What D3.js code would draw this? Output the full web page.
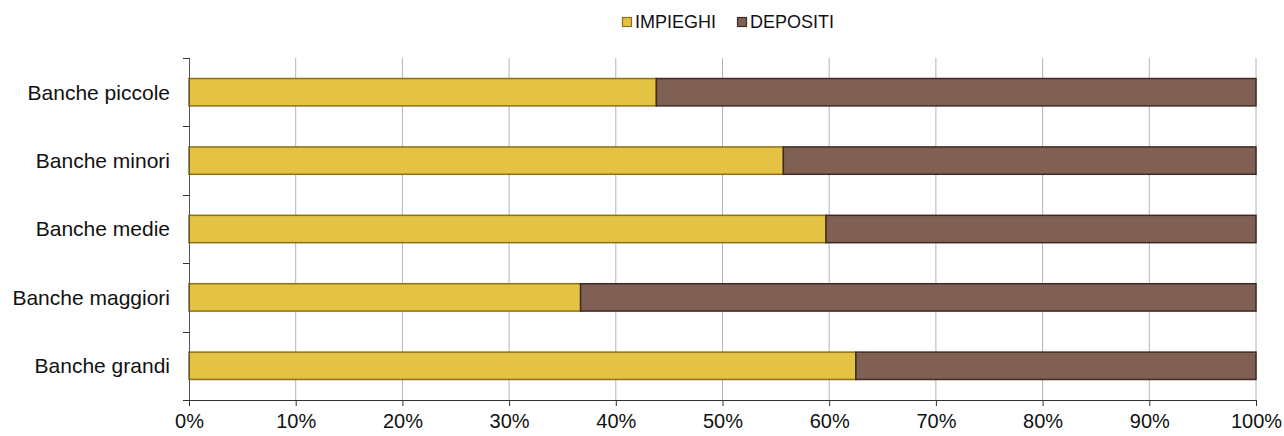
<!DOCTYPE html>
<html>
<head>
<meta charset="utf-8">
<script src="https://cdn.jsdelivr.net/npm/d3@7"></script>
<style>
  body { margin: 0; background: #fff; }
  text { font-family: "Liberation Sans", Arial, Helvetica, sans-serif; fill: #111; }
</style>
</head>
<body>
<script>
// data (share of total, %)
var categories = ["Banche piccole", "Banche minori", "Banche medie", "Banche maggiori", "Banche grandi"];
var impieghi = [43.8, 55.7, 59.7, 36.7, 62.5];
var depositi = [56.2, 44.3, 40.3, 63.3, 37.5];
var seriesNames = ["IMPIEGHI", "DEPOSITI"];
var xTicks = [0, 10, 20, 30, 40, 50, 60, 70, 80, 90, 100];

var fills = ["#E3C244", "#7F6052"];
var strokes = ["#8C7119", "#3D2B27"];

var margin = {top: 58, right: 28, bottom: 36, left: 189},
    width = 1284 - margin.left - margin.right,
    height = 436 - margin.top - margin.bottom;

var svg = d3.select("body").append("svg")
    .attr("width", 1284)
    .attr("height", 436);

var g = svg.append("g")
    .attr("transform", "translate(" + margin.left + "," + margin.top + ")");

var x = d3.scaleLinear().domain([0, 100]).range([0, width]);
var y = d3.scaleBand().domain(categories).range([0, height])
    .paddingInner(0.6).paddingOuter(0.3);

// vertical gridlines
g.selectAll(".grid")
    .data(xTicks.slice(1))
    .enter().append("line")
    .attr("x1", function(d) { return x(d); })
    .attr("x2", function(d) { return x(d); })
    .attr("y1", 0)
    .attr("y2", height)
    .attr("stroke", "#b4b4b4")
    .attr("stroke-width", 1);

// stacked rows
var rows = categories.map(function(c, i) {
    return {cat: c, vals: [impieghi[i], depositi[i]]};
});
var stack = d3.stack().keys([0, 1]).value(function(d, k) { return d.vals[k]; });
var layers = stack(rows);

layers.forEach(function(layer, k) {
    g.selectAll(".bar" + k)
        .data(layer)
        .enter().append("rect")
        .attr("x", function(d) { return x(d[0]); })
        .attr("width", function(d) { return x(d[1]) - x(d[0]); })
        .attr("y", function(d) { return y(d.data.cat); })
        .attr("height", y.bandwidth())
        .attr("fill", fills[k])
        .attr("stroke", strokes[k])
        .attr("stroke-width", 1.5);
});

// x axis
var xAxis = g.append("g")
    .attr("transform", "translate(0," + height + ")")
    .call(d3.axisBottom(x).tickValues(xTicks).tickSize(6).tickPadding(8)
        .tickFormat(function(d) { return d + "%"; }));
xAxis.select(".domain").attr("stroke", "#333").attr("d", "M0.5,0.5H" + (width + 0.5));
xAxis.selectAll(".tick line").attr("stroke", "#333");
xAxis.selectAll("text").style("font-size", "20px").attr("fill", "#111");

// y axis: line with ticks at band boundaries
var step = y.step();
var bounds = [0].concat(categories.map(function(c) { return y(c) + y.bandwidth() + step * y.paddingInner() / 2; }));
bounds[bounds.length - 1] = height;
g.append("line")
    .attr("x1", 0.5).attr("x2", 0.5)
    .attr("y1", 0).attr("y2", height)
    .attr("stroke", "#555");
g.selectAll(".ytick")
    .data(bounds)
    .enter().append("line")
    .attr("x1", -6).attr("x2", 0.5)
    .attr("y1", function(d) { return Math.round(d) + 0.5; })
    .attr("y2", function(d) { return Math.round(d) + 0.5; })
    .attr("stroke", "#333");

g.selectAll(".ylabel")
    .data(categories)
    .enter().append("text")
    .attr("x", -19)
    .attr("y", function(d) { return y(d) + y.bandwidth() / 2; })
    .attr("dy", "0.35em")
    .style("text-anchor", "end")
    .style("font-size", "21px")
    .text(function(d) { return d; });

// legend
var legendX = [622, 737];
var legend = svg.selectAll(".legend")
    .data(seriesNames)
    .enter().append("g")
    .attr("transform", function(d, i) { return "translate(" + legendX[i] + ",17)"; });
legend.append("rect")
    .attr("x", 0.5).attr("y", 0.5)
    .attr("width", 9).attr("height", 9)
    .attr("fill", function(d, i) { return fills[i]; })
    .attr("stroke", function(d, i) { return strokes[i]; })
    .attr("stroke-width", 1.2);
legend.append("text")
    .attr("x", 13)
    .attr("y", 11)
    .style("font-size", "18px")
    .text(function(d) { return d; });
</script>
</body>
</html>
